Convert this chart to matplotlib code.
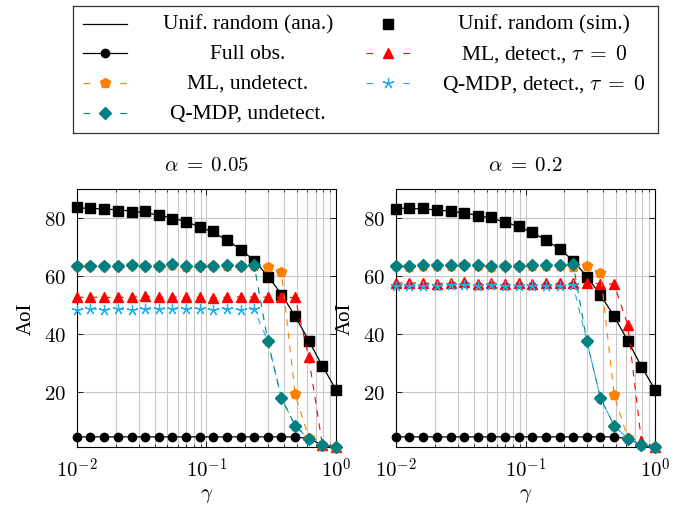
import matplotlib
matplotlib.use("Agg")
import matplotlib.pyplot as plt
import matplotlib.ticker as ticker
import numpy as np

plt.rcParams['font.family'] = ['Liberation Serif', 'DejaVu Serif']
plt.rcParams['mathtext.fontset'] = 'cm'

# Сетка по gamma (20 точек от 1e-2 до 1)
gamma = [0.01, 0.0127, 0.0162, 0.0207, 0.0264, 0.0336, 0.0428, 0.0546, 0.0695, 0.0886,
         0.1129, 0.1438, 0.1833, 0.2336, 0.2976, 0.3793, 0.4833, 0.6158, 0.7848, 1.0]

# alpha = 0.05
unif_ana_a = [83.5, 83.3, 83.1, 82.8, 82.4, 81.8, 81.0, 80.0, 78.7, 77.0,
              75.0, 72.4, 69.2, 65.3, 60.0, 53.7, 46.2, 37.7, 29.0, 20.8]
unif_sim_a = [83.7, 83.4, 83.2, 82.5, 82.0, 82.3, 81.0, 79.7, 78.7, 77.0,
              75.4, 72.3, 69.1, 65.1, 59.5, 53.6, 46.1, 37.7, 29.1, 20.8]
full_obs_a = [4.5, 4.5, 4.5, 4.5, 4.5, 4.5, 4.5, 4.5, 4.5, 4.5,
              4.5, 4.5, 4.5, 4.5, 4.5, 4.5, 4.5, 3.9, 1.7, 1.0]
ml_det_a = [52.6, 52.7, 52.6, 52.7, 52.6, 53.2, 52.6, 52.8, 52.6, 52.6,
            52.5, 52.7, 52.8, 52.7, 52.7, 52.6, 52.6, 32.0, 1.8, 1.0]
ml_undet_a = [63.3, 63.5, 63.4, 63.5, 63.7, 63.4, 63.6, 63.8, 63.2, 63.5,
              63.6, 63.5, 63.4, 63.6, 63.0, 61.5, 19.3, 4.2, 1.7, 1.0]
qmdp_det_a = [48.3, 48.6, 48.4, 48.5, 48.3, 48.5, 48.6, 48.5, 48.6, 48.7,
              48.4, 48.5, 48.4, 48.5, 37.5, 17.9, 8.4, 3.8, 1.7, 1.0]
qmdp_undet_a = [63.5, 63.6, 63.6, 63.6, 63.9, 63.5, 63.6, 64.1, 63.3, 63.5,
                63.6, 63.7, 63.5, 63.7, 37.5, 17.9, 8.4, 3.8, 1.7, 1.0]

# alpha = 0.2
unif_ana_b = [83.4, 83.3, 83.1, 82.8, 82.3, 81.7, 80.9, 79.9, 78.6, 77.0,
              75.0, 72.4, 69.3, 65.3, 59.8, 53.5, 46.1, 37.7, 28.8, 20.8]
unif_sim_b = [83.1, 83.4, 83.3, 82.8, 82.3, 81.6, 80.6, 80.2, 78.5, 77.1,
              75.3, 72.4, 69.3, 65.3, 59.5, 53.4, 46.1, 37.7, 28.7, 20.8]
full_obs_b = [4.5, 4.5, 4.5, 4.5, 4.5, 4.5, 4.5, 4.5, 4.5, 4.5,
              4.5, 4.5, 4.5, 4.5, 4.5, 4.5, 4.5, 3.9, 1.7, 1.0]
ml_det_b = [57.5, 57.6, 57.5, 57.4, 57.6, 57.8, 57.3, 57.7, 57.2, 57.6,
            57.4, 57.5, 57.5, 57.6, 57.6, 57.3, 57.2, 43.1, 3.2, 1.0]
ml_undet_b = [63.3, 63.2, 63.4, 63.5, 63.6, 63.9, 63.5, 63.2, 63.4, 63.6,
              63.5, 63.4, 63.4, 63.1, 63.3, 61.0, 19.1, 4.0, 1.8, 1.0]
qmdp_det_b = [56.7, 56.5, 56.7, 56.6, 56.8, 56.9, 56.7, 56.9, 56.5, 56.7,
              56.7, 56.7, 56.6, 56.8, 37.5, 17.9, 8.4, 3.9, 1.7, 1.0]
qmdp_undet_b = [63.6, 63.6, 63.7, 63.7, 63.7, 63.8, 63.8, 63.3, 63.5, 63.6,
                63.7, 63.8, 63.7, 64.0, 37.5, 17.9, 8.4, 3.9, 1.7, 1.0]

panels = [
    (r'$\alpha\;=\;0.05$', unif_ana_a, unif_sim_a, full_obs_a, ml_det_a, ml_undet_a, qmdp_det_a, qmdp_undet_a),
    (r'$\alpha\;=\;0.2$', unif_ana_b, unif_sim_b, full_obs_b, ml_det_b, ml_undet_b, qmdp_det_b, qmdp_undet_b),
]

ORANGE = '#FF8000'
TEAL = '#008080'
RED = '#FF0000'
CYAN = '#1DB0EE'
DASH = (0, (6, 6))
LEG_DASH = (0, (6, 27))
FS = 15

# Стили кривых (порядок как в легенде)
styles = [
    ('Unif. random (ana.)', dict(color='black', lw=0.9, ls='-', marker='None')),
    ('Unif. random (sim.)', dict(color='black', lw=0, ls='None', marker='s', ms=6.5)),
    ('Full obs.', dict(color='black', lw=0.9, ls='-', marker='o', ms=6)),
    (r'ML, detect., $\tau\;=\;0$', dict(color=RED, lw=0.8, ls=DASH, marker='^', ms=7.5)),
    ('ML, undetect.', dict(color=ORANGE, lw=0.8, ls=DASH, marker='p', ms=7.5)),
    (r'Q-MDP, detect., $\tau\;=\;0$', dict(color=CYAN, lw=0.8, ls=DASH, marker=(5, 2, 0), ms=8,
                                          mew=0.9)),
    ('Q-MDP, undetect.', dict(color=TEAL, lw=0.8, ls=DASH, marker='D', ms=6)),
]

fig = plt.figure(figsize=(6.83, 5.06), dpi=100)

ax_positions = [[0.1127, 0.1146, 0.3792, 0.5099], [0.5798, 0.1146, 0.3792, 0.5099]]
for pos, panel in zip(ax_positions, panels):
    title = panel[0]
    series = panel[1:]
    ax = fig.add_axes(pos)
    for (label, st), y in zip(styles, series):
        ax.plot(gamma, y, clip_on=False, zorder=3, **st)
    ax.set_xscale('log')
    ax.set_xlim(0.01, 1)
    ax.set_ylim(1, 90)
    ax.xaxis.set_major_locator(ticker.FixedLocator([0.01, 0.1, 1]))
    ax.xaxis.set_major_formatter(ticker.FuncFormatter(lambda v, p: r'$10^{%d}$' % round(np.log10(v))))
    ax.xaxis.set_minor_locator(ticker.LogLocator(base=10, subs=np.arange(2, 10)))
    ax.xaxis.set_minor_formatter(ticker.NullFormatter())
    ax.yaxis.set_major_locator(ticker.FixedLocator([20, 40, 60, 80]))
    ax.yaxis.set_major_formatter(ticker.FuncFormatter(lambda v, p: r'$%d$' % v))
    ax.grid(True, which='major', color='#c8c8c8', lw=0.8, zorder=0)
    ax.grid(True, which='minor', axis='x', color='#c8c8c8', lw=0.8, zorder=0)
    ax.set_axisbelow(True)
    ax.tick_params(which='both', direction='in', top=True, right=True, labelsize=FS)
    ax.tick_params(which='major', length=4, width=0.6, pad=8)
    ax.tick_params(which='minor', length=2.5, width=0.5)
    for sp in ax.spines.values():
        sp.set_linewidth(0.8)
    ax.set_xlabel(r'$\gamma$', fontsize=FS, labelpad=2)
    ax.set_ylabel('AoI', fontsize=FS, labelpad=6)
    ax.set_title(title, fontsize=FS, pad=14)

# Легенда в отдельной рамке (текст по центру колонки, как в pgfplots)
lax = fig.add_axes([0.1069, 0.7352, 0.8565, 0.251])
lax.set_xlim(0, 1)
lax.set_ylim(1, 0)
lax.set_xticks([])
lax.set_yticks([])
for sp in lax.spines.values():
    sp.set_linewidth(0.9)
    sp.set_color('#333333')

row_y = [0.138, 0.374, 0.610, 0.846]
col_handle = [0.0547, 0.538]
col_text = [0.299, 0.805]
half = 0.038
for k, (label, st) in enumerate(styles):
    r, c = k // 2, k % 2
    hx = col_handle[c]
    y = row_y[r]
    ls = LEG_DASH if st['ls'] == DASH else st['ls']
    lax.plot([hx - half, hx + half], [y, y], marker='None', color=st['color'],
             lw=st['lw'], ls=ls)
    if st['marker'] != 'None':
        lax.plot([hx], [y], marker=st['marker'], ls='None', color=st['color'],
                 ms=st.get('ms', 6), mew=st.get('mew', 1))
    lax.text(col_text[c], y, label, ha='center', va='center', fontsize=15.5)

fig.savefig('out.png', dpi=100)
